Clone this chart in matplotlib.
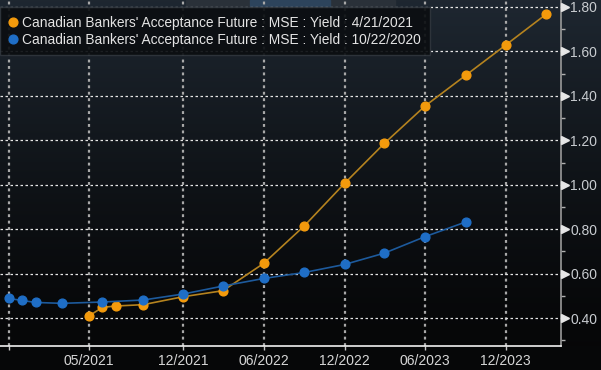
import numpy as np
import matplotlib
matplotlib.use('Agg')
import matplotlib.pyplot as plt
from matplotlib.lines import Line2D
from matplotlib.patches import Rectangle
from datetime import datetime

# BAX yield curves
orange_months = ['2021-05', '2021-06', '2021-07', '2021-09', '2021-12', '2022-03', '2022-06',
                 '2022-09', '2022-12', '2023-03', '2023-06', '2023-09', '2023-12', '2024-03']
orange_vals = [0.409, 0.448, 0.454, 0.460, 0.496, 0.523, 0.646,
               0.815, 1.006, 1.186, 1.354, 1.492, 1.629, 1.767]

blue_months = ['2020-11', '2020-12', '2021-01', '2021-03', '2021-06', '2021-09', '2021-12',
               '2022-03', '2022-06', '2022-09', '2022-12', '2023-03', '2023-06', '2023-09']
blue_vals = [0.488, 0.479, 0.470, 0.466, 0.472, 0.481, 0.508,
             0.544, 0.578, 0.605, 0.641, 0.692, 0.766, 0.832]

orange_label = "Canadian Bankers' Acceptance Future : MSE : Yield : 4/21/2021"
blue_label = "Canadian Bankers' Acceptance Future : MSE : Yield : 10/22/2020"

tick_months = ['2020-11', '2021-05', '2021-12', '2022-06', '2022-12', '2023-06', '2023-12']
tick_labels = ['', '05/2021', '12/2021', '06/2022', '12/2022', '06/2023', '12/2023']
y_ticks = [0.40, 0.60, 0.80, 1.00, 1.20, 1.40, 1.60, 1.80]
y_minor = [0.30, 0.50, 0.70, 0.90, 1.10, 1.30, 1.50, 1.70]


def to_dates(months):
    return [datetime.strptime(m, '%Y-%m') for m in months]


W, H = 601, 370
fig = plt.figure(figsize=(W / 100, H / 100), dpi=100, facecolor='#060708')

# background gradient over the whole figure
bg = fig.add_axes([0, 0, 1, 1], zorder=-10)
bg.set_axis_off()
ys = np.linspace(0, 1, 256)
top = np.array([0.118, 0.153, 0.192])
bot = np.array([0.024, 0.027, 0.031])
t = np.clip((ys - 24 / H) / (1 - 24 / H), 0, 1) ** 1.3
grad = bot[None, :] + (top - bot)[None, :] * t[:, None]
grad = np.repeat(grad[:, None, :], 2, axis=1)
bg.imshow(grad, origin='lower', aspect='auto', extent=[0, 1, 0, 1])
bg.add_patch(Rectangle((0, 0), 1, 24 / H, color='#060708', zorder=2))
# little tab strip at the top edge
bg.add_patch(Rectangle((186 / W, 1 - 7 / H), 209 / W, 7 / H, color='#2a3139', zorder=2))
bg.add_patch(Rectangle((250 / W, 1 - 7 / H), 80 / W, 7 / H, color='#2d445c', zorder=3))
bg.set_xlim(0, 1)
bg.set_ylim(0, 1)

ax = fig.add_axes([0, 24 / H, 561 / W, 1 - 24 / H])
ax.set_facecolor('none')

ax.plot(to_dates(orange_months), orange_vals, color='#b5831f', lw=1.2, zorder=3)
ax.plot(to_dates(orange_months), orange_vals, 'o', color='#f39a0c', ms=6.3, mec='#f39a0c', zorder=4)
ax.plot(to_dates(blue_months), blue_vals, color='#1d5a9c', lw=1.2, zorder=5)
ax.plot(to_dates(blue_months), blue_vals, 'o', color='#1f6ec6', ms=6.3, mec='#1f6ec6', zorder=6)

ax.set_xlim(datetime(2020, 10, 12), datetime(2024, 4, 4))
ax.set_ylim(0.274, 1.8315)

ax.set_xticks(to_dates(tick_months))
ax.set_xticklabels(tick_labels)
ax.xaxis.set_minor_locator(plt.NullLocator())
ax.tick_params(axis='x', colors='#c8c8c8', length=3, width=1, labelsize=10, pad=2.5,
               labelcolor='#d6d6d6')

ax.yaxis.tick_right()
ax.set_yticks(y_ticks)
ax.set_yticklabels(['%.2f' % v for v in y_ticks])
ax.set_yticks(y_minor, minor=True)
ax.tick_params(axis='y', which='major', length=0, pad=6.8, labelsize=10, labelcolor='#c8ccd0')
ax.tick_params(axis='y', which='minor', length=3, width=1, color='#b0b0b0')
# triangle tick markers pointing at the labels
ax.plot([1.0075] * len(y_ticks), y_ticks, marker='>', ls='none', color='#e6e6e6', ms=5.5,
        transform=ax.get_yaxis_transform(), clip_on=False, zorder=7)

for lbl in ax.get_xticklabels() + ax.get_yticklabels():
    lbl.set_family('Liberation Sans')

ax.grid(axis='y', color='#e6e6e6', ls=(0, (2, 2)), lw=0.9, zorder=1)
ax.grid(axis='x', color='#a8a8a8', ls=(0, (1.3, 1.6)), lw=1.6, zorder=1)

for s in ['top', 'left']:
    ax.spines[s].set_visible(False)
ax.spines['bottom'].set_color('#f0f0f0')
ax.spines['bottom'].set_linewidth(1.2)
ax.spines['right'].set_color('#9a9a9a')
ax.spines['right'].set_linewidth(1.2)

handles = [Line2D([], [], marker='o', ls='none', color='#f39a0c', ms=6.3),
           Line2D([], [], marker='o', ls='none', color='#1f6ec6', ms=6.3)]
leg = ax.legend(handles, [orange_label, blue_label], loc='upper left',
                bbox_to_anchor=(0, 1 - 7 / 346), borderaxespad=0, frameon=True,
                fancybox=False, handlelength=0.6, handletextpad=0.4, labelspacing=0.22,
                borderpad=0.62, prop={'family': 'Liberation Sans', 'size': 9.9})
leg.get_frame().set_facecolor('#0b0e11')
leg.get_frame().set_edgecolor('#30363d')
leg.get_frame().set_alpha(0.92)
leg.set_zorder(10)
for txt in leg.get_texts():
    txt.set_color('#e4e4e4')

fig.savefig('out.png', dpi=100, facecolor=fig.get_facecolor())
